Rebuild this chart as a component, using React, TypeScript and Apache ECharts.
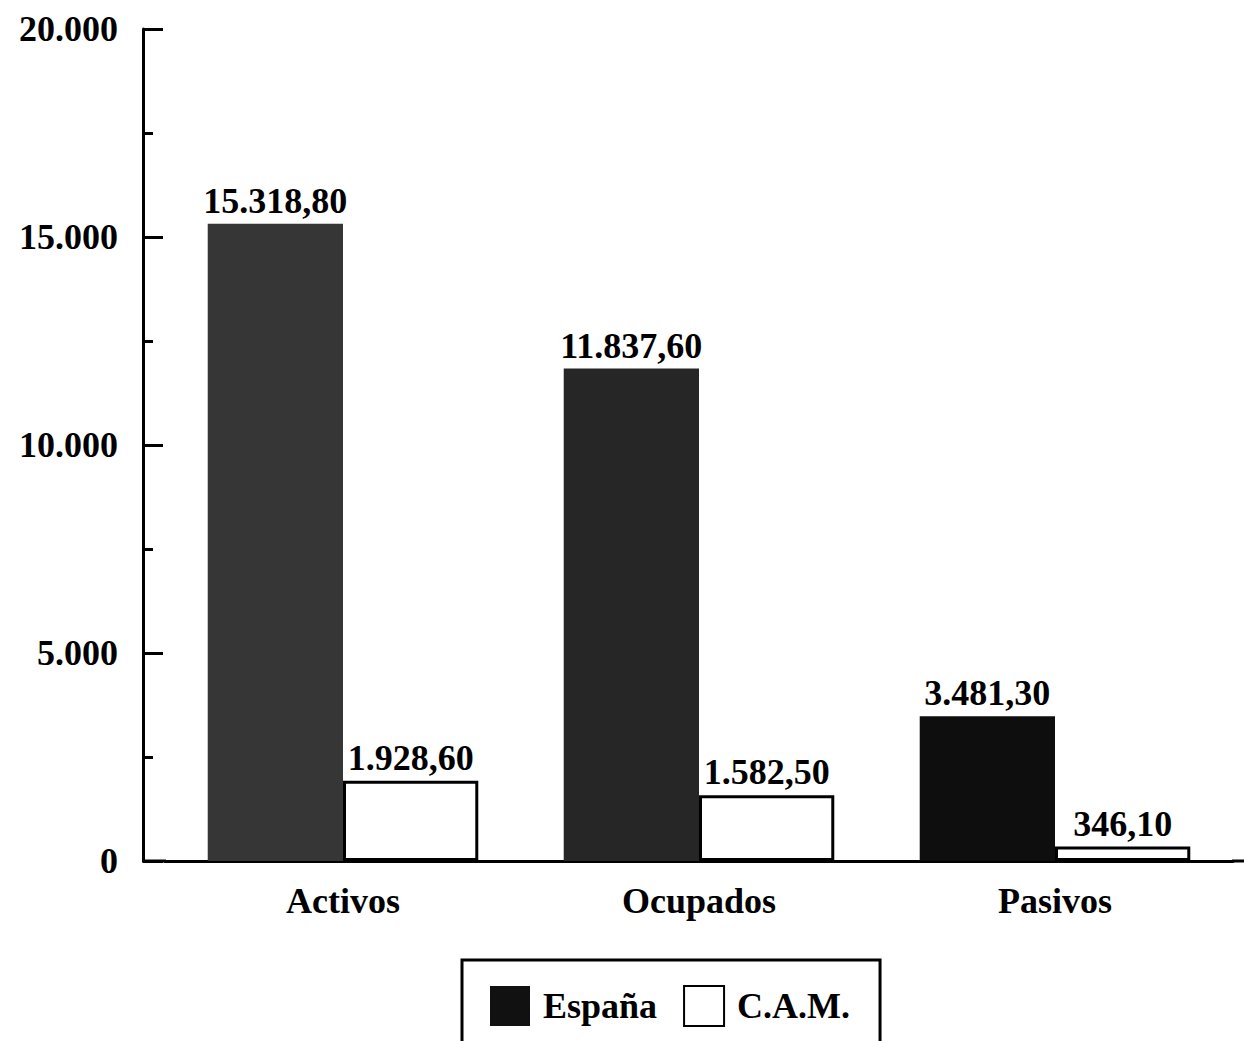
import React, { useEffect, useRef } from "react";
import * as echarts from "echarts";

const categories = ["Activos", "Ocupados", "Pasivos"];
const espana = [15318.8, 11837.6, 3481.3];
const cam = [1928.6, 1582.5, 346.1];
const espanaShades = ["#363636", "#262626", "#0e0e0e"];
const seriesNames = ["España", "C.A.M."];

const FONT = "'Liberation Serif', 'Times New Roman', serif";

function fmtEs(v: number): string {
  const fixed = v.toFixed(2);
  const [intPart, dec] = fixed.split(".");
  const withDots = intPart.replace(/\B(?=(\d{3})+(?!\d))/g, ".");
  return withDots + "," + dec;
}
function fmtTick(v: number): string {
  return String(Math.round(v)).replace(/\B(?=(\d{3})+(?!\d))/g, ".");
}

export default function App() {
  const ref = useRef<HTMLDivElement>(null);
  useEffect(() => {
    if (!ref.current) return;
    const chart = echarts.init(ref.current, null, { renderer: "svg" });
    const textBase = {
      fontFamily: FONT,
      fontWeight: "bold" as const,
      fontSize: 36,
      color: "#000",
    };
    chart.setOption({
      animation: false,
      backgroundColor: "#fff",
      grid: { left: 165, right: 11, top: 29, bottom: 180 },
      xAxis: {
        type: "category",
        data: categories,
        axisLine: { lineStyle: { color: "#000", width: 3 } },
        axisTick: { show: false },
        axisLabel: { ...textBase, margin: 22 },
      },
      yAxis: [
        {
          type: "value",
          min: 0,
          max: 20000,
          interval: 5000,
          offset: 22,
          position: "left",
          splitLine: { show: false },
          axisLine: { show: true, lineStyle: { color: "#000", width: 3 } },
          axisTick: { show: true, inside: true, length: 20, lineStyle: { color: "#000", width: 3 } },
          axisLabel: { ...textBase, margin: 25, formatter: (v: number) => fmtTick(v) },
        },
        {
          type: "value",
          min: 0,
          max: 20000,
          interval: 2500,
          offset: 22,
          position: "left",
          splitLine: { show: false },
          axisLine: { show: false },
          axisTick: { show: true, inside: true, length: 10, lineStyle: { color: "#000", width: 3 } },
          axisLabel: { show: false },
        },
      ],
      legend: {
        left: 462,
        top: 960,
        orient: "horizontal",
        itemWidth: 40,
        itemHeight: 40,
        itemGap: 26,
        padding: [25, 30, 40, 28],
        borderColor: "#000",
        borderWidth: 3,
        icon: "rect",
        textStyle: { ...textBase, padding: [0, 0, 0, 8] },
        data: seriesNames,
      },
      series: [
        {
          name: seriesNames[0],
          type: "bar",
          yAxisIndex: 0,
          barGap: "0%",
          barCategoryGap: "24%",
          itemStyle: { color: "#111" },
          data: espana.map((v, i) => ({ value: v, itemStyle: { color: espanaShades[i] } })),
          label: {
            show: true,
            position: "top",
            distance: 5,
            ...textBase,
            formatter: (p: any) => fmtEs(p.value),
          },
        },
        {
          name: seriesNames[1],
          type: "bar",
          yAxisIndex: 0,
          barGap: "0%",
          barCategoryGap: "24%",
          itemStyle: { color: "#fff", borderColor: "#000", borderWidth: 3 },
          data: cam,
          label: {
            show: true,
            position: "top",
            distance: 5,
            ...textBase,
            formatter: (p: any) => fmtEs(p.value),
          },
        },
      ],
      graphic: [
        {
          type: "line",
          shape: { x1: 142, y1: 861, x2: 166, y2: 861 },
          style: { stroke: "#000", lineWidth: 3 },
        },
        {
          type: "line",
          shape: { x1: 1232, y1: 861, x2: 1244, y2: 861 },
          style: { stroke: "#000", lineWidth: 3 },
        },
      ],
    });
    return () => chart.dispose();
  }, []);
  return (
    <div
      ref={ref}
      style={{ position: "fixed", left: 0, top: 0, width: 1244, height: 1041, background: "#fff" }}
    />
  );
}
